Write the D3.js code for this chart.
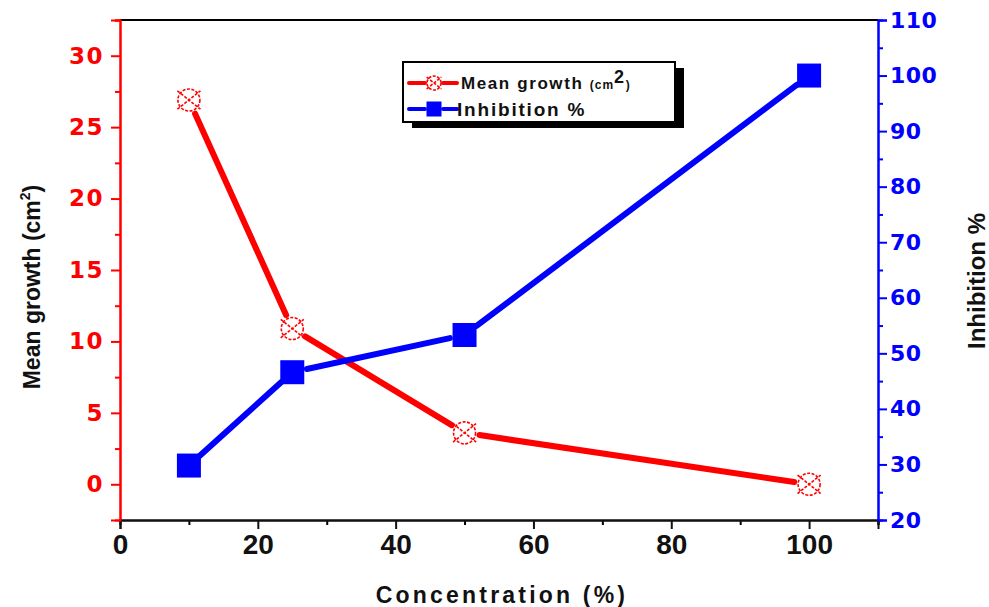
<!DOCTYPE html>
<html>
<head>
<meta charset="utf-8">
<script src="https://cdn.jsdelivr.net/npm/d3@7"></script>
<style>
  body { margin: 0; background: #fff; }
  svg { font-family: Arial, "Liberation Sans", sans-serif; }
</style>
</head>
<body>
<script>
// data
var concentration = [10, 25, 50, 100];
var meanGrowth = [26.9, 10.9, 3.6, 0];
var inhibition = [29.8, 46.6, 53.3, 100];

var xTicks = [0, 20, 40, 60, 80, 100];
var leftTicks = [0, 5, 10, 15, 20, 25, 30];
var rightTicks = [20, 30, 40, 50, 60, 70, 80, 90, 100, 110];

var width = 989, height = 607,
	margin = { top: 20, right: 111, bottom: 87, left: 120 };

var svg = d3.select('body').append('svg')
	.attr('width', width)
	.attr('height', height);

var w = width - margin.left - margin.right,
	h = height - margin.top - margin.bottom;

var x = d3.scaleLinear().domain([0, 110]).range([0, w]),
	yL = d3.scaleLinear().domain([-2.5, 32.5]).range([h, 0]),
	yR = d3.scaleLinear().domain([20, 110]).range([h, 0]);

var g = svg.append('g')
	.attr('transform', 'translate(' + margin.left + ',' + margin.top + ')');

// top frame line
g.append('line').attr('x1', 0).attr('x2', w).attr('y1', 0).attr('y2', 0)
	.attr('stroke', '#000').attr('stroke-width', 2);

// minor ticks
function minor(axis, vals) { return axis.tickValues(vals).tickSize(5).tickFormat(''); }

var xMinor = g.append('g').attr('transform', 'translate(0,' + h + ')')
	.call(minor(d3.axisBottom(x), [10, 30, 50, 70, 90, 110]));
var lMinor = g.append('g')
	.call(minor(d3.axisLeft(yL), [2.5, 7.5, 12.5, 17.5, 22.5, 27.5, 32.5]));
var rMinor = g.append('g').attr('transform', 'translate(' + w + ',0)')
	.call(minor(d3.axisRight(yR), [25, 35, 45, 55, 65, 75, 85, 95, 105]));

// major axes
var xAxis = g.append('g').attr('transform', 'translate(0,' + h + ')')
	.call(d3.axisBottom(x).tickValues(xTicks).tickSize(9).tickPadding(5));
var lAxis = g.append('g')
	.call(d3.axisLeft(yL).tickValues(leftTicks).tickSize(9).tickPadding(7));
var rAxis = g.append('g').attr('transform', 'translate(' + w + ',0)')
	.call(d3.axisRight(yR).tickValues(rightTicks).tickSize(9).tickPadding(3));

function styleAxis(sel, col) {
	sel.select('.domain').attr('stroke', col).attr('stroke-width', 2);
	sel.selectAll('.tick line').attr('stroke', col).attr('stroke-width', 2);
	sel.selectAll('.tick text').attr('fill', col)
		.style('font-size', '23px').style('font-weight', 'bold')
		.style('font-family', '"DejaVu Sans", Arial, sans-serif');
}
styleAxis(xMinor, '#000'); styleAxis(xAxis, '#111');
styleAxis(lMinor, '#ff0000'); styleAxis(lAxis, '#ff0000');
styleAxis(rMinor, '#0000ff'); styleAxis(rAxis, '#0000ff');
xAxis.selectAll('.tick text')
	.style('font-family', '"Liberation Sans Narrow", Arial, sans-serif')
	.style('font-size', '28px');
rAxis.selectAll('.tick text').style('letter-spacing', '0.5px').style('font-size', '22px');
lAxis.selectAll('.tick text').style('letter-spacing', '1.5px');

// axis titles
svg.append('text')
	.attr('x', margin.left + x(55) + 3).attr('y', 603)
	.attr('text-anchor', 'middle').style('font-size', '23px').style('font-weight', 'bold')
	.style('letter-spacing', '3.2px').attr('fill', '#111')
	.text('Concentration (%)');

var lt = svg.append('text')
	.attr('transform', 'translate(40,287) rotate(-90)')
	.attr('text-anchor', 'middle').style('font-size', '23px').style('font-weight', 'bold')
	.attr('fill', '#111');
lt.append('tspan').text('Mean growth (cm');
lt.append('tspan').style('font-size', '14px').attr('dy', -10).text('2');
lt.append('tspan').attr('dy', 10).text(')');

svg.append('text')
	.attr('transform', 'translate(985,281) rotate(-90)')
	.attr('text-anchor', 'middle').style('font-size', '24px').style('font-weight', 'bold')
	.attr('fill', '#111')
	.text('Inhibition %');

// lines with gaps around the markers
function gapSegments(xs, ys, gap) {
	var segs = [];
	for (var i = 0; i < xs.length - 1; i++) {
		var x1 = xs[i], y1 = ys[i], x2 = xs[i + 1], y2 = ys[i + 1];
		var dx = x2 - x1, dy = y2 - y1, len = Math.sqrt(dx * dx + dy * dy);
		var ux = dx / len, uy = dy / len;
		segs.push([x1 + ux * gap, y1 + uy * gap, x2 - ux * gap, y2 - uy * gap]);
	}
	return segs;
}

var redPts = concentration.map(function(c, i) { return [x(c), yL(meanGrowth[i])]; });
var bluePts = concentration.map(function(c, i) { return [x(c), yR(inhibition[i])]; });

function drawSegs(pts, col) {
	g.selectAll(null)
		.data(gapSegments(pts.map(function(p) { return p[0]; }), pts.map(function(p) { return p[1]; }), 15))
		.enter().append('line')
		.attr('x1', function(d) { return d[0]; }).attr('y1', function(d) { return d[1]; })
		.attr('x2', function(d) { return d[2]; }).attr('y2', function(d) { return d[3]; })
		.attr('stroke', col).attr('stroke-width', 6).attr('stroke-linecap', 'round');
}
drawSegs(redPts, '#ff0000');
drawSegs(bluePts, '#0000ff');

// markers
function circleX(sel, r) {
	sel.append('circle').attr('r', r).attr('fill', 'none')
		.attr('stroke', '#ff0000').attr('stroke-width', 1.6).attr('stroke-dasharray', '3,1.5');
	var e = r * 1.05;
	sel.append('path').attr('d', 'M' + (-e) + ',' + (e * 0.8) + 'L' + e + ',' + (-e * 0.8) +
		'M' + (-e) + ',' + (-e * 0.8) + 'L' + e + ',' + (e * 0.8))
		.attr('stroke', '#ff0000').attr('stroke-width', 1.6).attr('stroke-dasharray', '3,1.5');
}
function square(sel, s) {
	sel.append('rect').attr('x', -s / 2).attr('y', -s / 2).attr('width', s).attr('height', s)
		.attr('fill', '#0000ff');
}

redPts.forEach(function(p) {
	circleX(g.append('g').attr('transform', 'translate(' + p[0] + ',' + p[1] + ')'), 11);
});
bluePts.forEach(function(p) {
	square(g.append('g').attr('transform', 'translate(' + p[0] + ',' + p[1] + ')'), 24);
});

// legend
var leg = svg.append('g').attr('transform', 'translate(403,62)');
leg.append('rect').attr('x', 9).attr('y', 6).attr('width', 272).attr('height', 60).attr('fill', '#000');
leg.append('rect').attr('x', 0).attr('y', 0).attr('width', 272).attr('height', 60)
	.attr('fill', '#fff').attr('stroke', '#000').attr('stroke-width', 2);

var items = [
	{ col: '#ff0000', y: 21, mark: 'c' },
	{ col: '#0000ff', y: 47, mark: 's' }
];
items.forEach(function(d) {
	leg.append('line').attr('x1', 6).attr('x2', 22).attr('y1', d.y).attr('y2', d.y)
		.attr('stroke', d.col).attr('stroke-width', 4).attr('stroke-linecap', 'round');
	leg.append('line').attr('x1', 40).attr('x2', 54).attr('y1', d.y).attr('y2', d.y)
		.attr('stroke', d.col).attr('stroke-width', 4).attr('stroke-linecap', 'round');
	var m = leg.append('g').attr('transform', 'translate(31,' + d.y + ')');
	if (d.mark === 'c') circleX(m, 7); else square(m, 15);
});
var t1 = leg.append('text').attr('x', 58).attr('y', 27).style('font-size', '17px')
	.style('font-weight', 'bold').style('letter-spacing', '1.6px').attr('fill', '#111');
t1.append('tspan').text('Mean growth ');
t1.append('tspan').style('font-size', '12px').style('letter-spacing', '1px').text('(cm');
t1.append('tspan').style('font-size', '18px').attr('dy', -6).text('2');
t1.append('tspan').style('font-size', '12px').attr('dy', 6).text(')');
leg.append('text').attr('x', 54).attr('y', 54).style('font-size', '19px')
	.style('font-weight', 'bold').style('letter-spacing', '1.8px').attr('fill', '#111')
	.text('Inhibition %');
</script>
</body>
</html>
